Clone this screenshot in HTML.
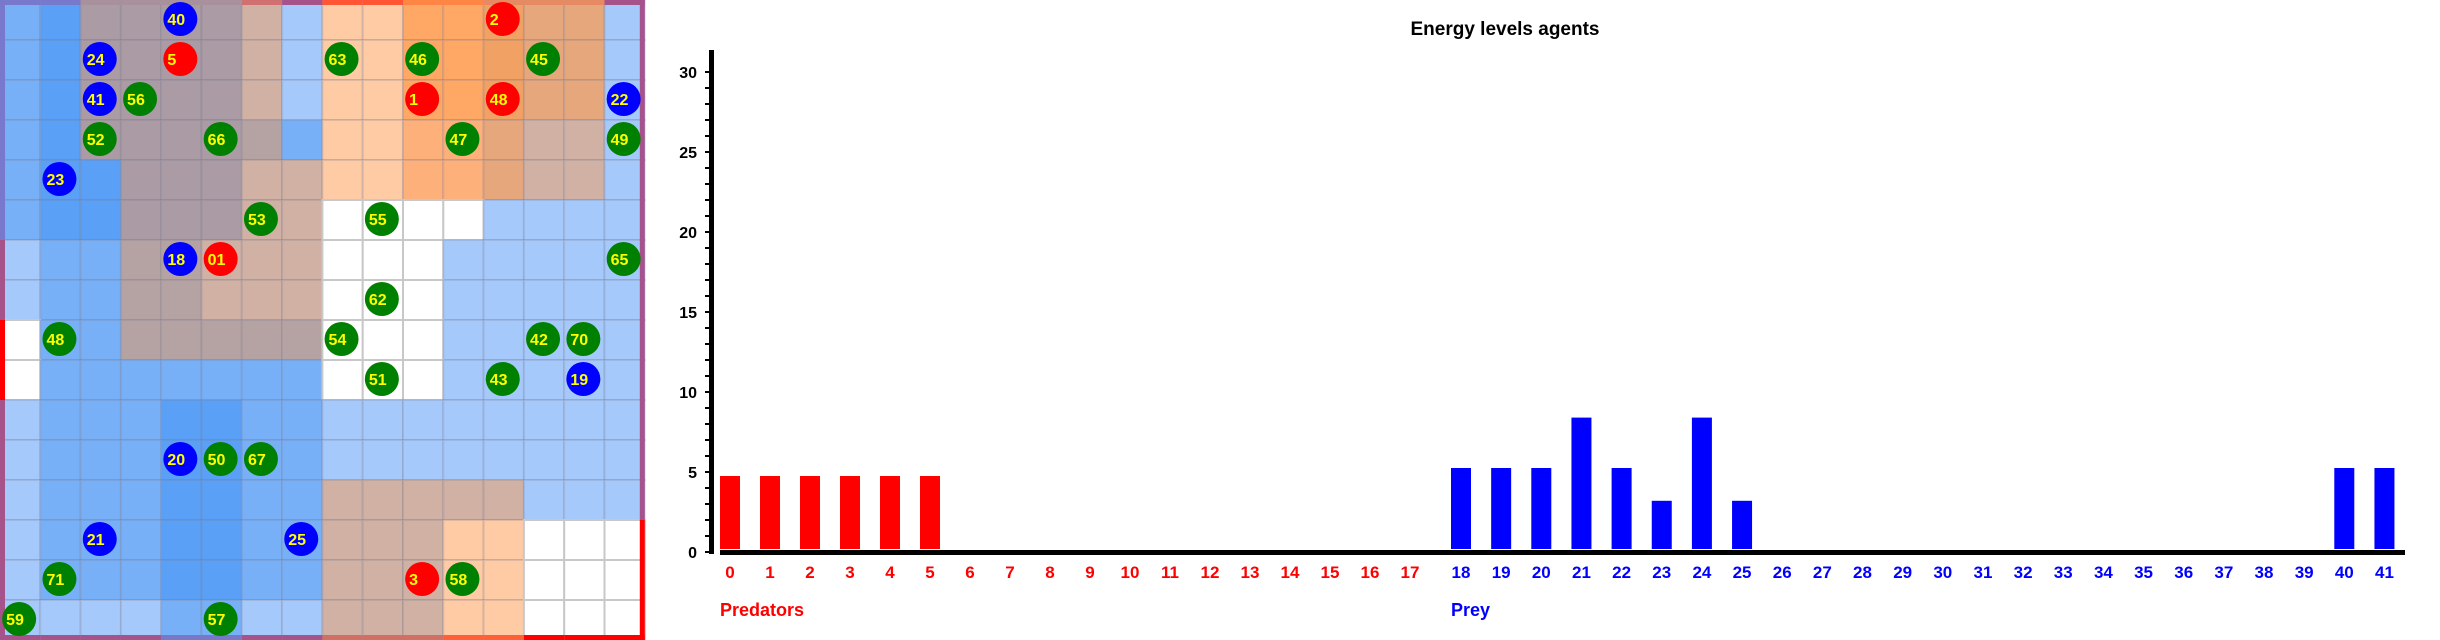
<!DOCTYPE html>
<html><head><meta charset="utf-8"><style>
html,body{margin:0;padding:0;background:#fff;width:2440px;height:640px;overflow:hidden}
svg{display:block}
text{font-family:"Liberation Sans",sans-serif;font-weight:bold}
</style></head><body>
<svg id="root" width="2440" height="640" xmlns="http://www.w3.org/2000/svg">
<g id="grid"></g>
<g id="chart">
<text x="1505" y="35" text-anchor="middle" font-size="19" fill="#000">Energy levels agents</text>
<rect x="709" y="50" width="5" height="504" fill="#000"/>
<rect x="720" y="550" width="1685" height="5" fill="#000"/>
<text x="720" y="616" font-size="18" fill="#f00">Predators</text>
<text x="1451" y="616" font-size="18" fill="#00f">Prey</text>
</g>
</svg>
<script>
// ----- chart data -----
const predatorIds = [0,1,2,3,4,5,6,7,8,9,10,11,12,13,14,15,16,17];
const predatorEnergy = [4.75,4.75,4.75,4.75,4.75,4.75,0,0,0,0,0,0,0,0,0,0,0,0];
const preyIds = [18,19,20,21,22,23,24,25,26,27,28,29,30,31,32,33,34,35,36,37,38,39,40,41];
const preyEnergy = [5.25,5.25,5.25,8.4,5.25,3.2,8.4,3.2,0,0,0,0,0,0,0,0,0,0,0,0,0,0,5.25,5.25];
const yTicks = [0,5,10,15,20,25,30];

const NS = "http://www.w3.org/2000/svg";
function mk(tag, attrs, parent){const e=document.createElementNS(NS,tag);for(const k in attrs)e.setAttribute(k,attrs[k]);parent.appendChild(e);return e;}
const y0 = 552, yScale = 16;
function yPos(v){return y0 - v*yScale;}
function xPred(i){return 720 + i*40;}
function xPrey(i){return 1451 + i*40.15;}
const chart = document.getElementById('chart');

for (let v=0; v<=30; v++){
  const t = mk('rect',{x:705,y:yPos(v)-1,width:5,height:2,fill:'#000'},chart);
  
  
}
yTicks.forEach(v=>{
  const t = mk('text',{x:697,y:yPos(v)+6,'text-anchor':'end','font-size':'16',fill:'#000'},chart);
  t.textContent = v;
  
  
});
function drawSeries(ids, vals, xf, color){
  ids.forEach((id,i)=>{
    const x = xf(i);
    const v = vals[i];
    if (v>0){
      const top = yPos(v);
      const b = mk('rect',{x:x,y:top,width:20,height:549-top,fill:color},chart);
      
      
    }
    const l = mk('text',{x:x+10,y:578,'text-anchor':'middle','font-size':'17',fill:color},chart);
    l.textContent = id;
    
    
  });
}
drawSeries(predatorIds, predatorEnergy, xPred, '#ff0000');
drawSeries(preyIds, preyEnergy, xPrey, '#0000ff');

// ----- grid -----
const pal = {A:'#a6c9fc',B:'#78b0f8',C:'#5ba0f7',D:'#aa9ba4',E:'#b5a3a3',F:'#d0b1a4',G:'#fecba5',H:'#ffa865',J:'#f1a163',I:'#e6a77c',K:'#feb07b',W:'#ffffff'};
const rows = [
"BCDDDDFAGGHHJIIA",
"BCDDDDFAGGHHJIIA",
"BCDDDDFAGGHHJIIA",
"BCDDDDEBGGKKIFFA",
"BCCDDDFFGGKKIFFA",
"BCCDDDFFWWWWAAAA",
"ABBEEFFFWWWAAAAA",
"ABBEEFFFWWWAAAAA",
"WBBEEEEEWWWAAAAA",
"WBBBBBBBWWWAAAAA",
"ABBBCCBBAAAAAAAA",
"ABBBCCBBAAAAAAAA",
"ABBBCCBBFFFFFAAA",
"ABBBCCBBFFFGGWWW",
"ABBBCCBBFFFGGWWW",
"AAAABBAAFFFGGWWW"];
const grid = document.getElementById('grid');
const cw = 40.3, ch = 40;
rows.forEach((r,j)=>{
  [...r].forEach((c,i)=>{
    const e = mk('rect',{x:i*cw,y:j*ch,width:cw,height:ch,fill:pal[c],stroke:c==='W'?'#c8c8c8':'rgba(120,120,140,0.22)','stroke-width':2},grid);
    
    
  });
});
// border segments
const P='#a5538a';
const topB=['#7878cc','#7878cc','#a8909c','#a8909c','#a8909c','#a8909c','#d07070',P,'#ff5535','#ff5535','#ff8545','#ff8545','#e58a62','#e58a62','#e58a62',P];
const botB=[P,P,P,P,'#7878c8','#7878c8',P,P,'#d07065','#d07065','#d07065','#ff6035','#ff6035','#ff0000','#ff0000','#ff0000'];
const leftB=['#7878cc','#7878cc','#7878cc','#7878cc','#7878cc','#7878cc',P,P,'#ff0000','#ff0000',P,P,P,P,P,P];
const rightB=[P,P,P,P,P,P,P,P,P,P,P,P,P,'#ff0000','#ff0000','#ff0000'];
const bw=5;
for(let i=0;i<16;i++){
  let e=mk('rect',{x:i*cw,y:0,width:cw,height:bw,fill:topB[i]},grid);
  
  
  e=mk('rect',{x:i*cw,y:640-bw,width:cw,height:bw,fill:botB[i]},grid);
  
  
  e=mk('rect',{x:0,y:i*ch,width:bw,height:ch,fill:leftB[i]},grid);
  
  
  e=mk('rect',{x:16*cw-bw,y:i*ch,width:bw,height:ch,fill:rightB[i]},grid);
  
  
}
// agents
const agents = [
[4,0,'40','b'],[12,0,'2','r'],[2,1,'24','b'],[4,1,'5','r'],[8,1,'63','g'],[10,1,'46','g'],[13,1,'45','g'],
[2,2,'41','b'],[3,2,'56','g'],[10,2,'1','r'],[12,2,'48','r'],[15,2,'22','b'],
[2,3,'52','g'],[5,3,'66','g'],[11,3,'47','g'],[15,3,'49','g'],[1,4,'23','b'],
[6,5,'53','g'],[9,5,'55','g'],[4,6,'18','b'],[5,6,'01','r'],[15,6,'65','g'],[9,7,'62','g'],
[1,8,'48','g'],[8,8,'54','g'],[13,8,'42','g'],[14,8,'70','g'],
[9,9,'51','g'],[12,9,'43','g'],[14,9,'19','b'],
[4,11,'20','b'],[5,11,'50','g'],[6,11,'67','g'],
[2,13,'21','b'],[7,13,'25','b'],[1,14,'71','g'],[10,14,'3','r'],[11,14,'58','g'],
[0,15,'59','g'],[5,15,'57','g']];
const acol={b:'#0000ff',r:'#ff0000',g:'#008000'};
agents.forEach(a=>{
  const cx=a[0]*cw+cw/2-1, cy=a[1]*ch+ch/2-1;
  const c=mk('circle',{cx:cx,cy:cy,r:17,fill:acol[a[3]]},grid);
  
  
  const t=mk('text',{x:cx-13,y:cy+6,'font-size':'16',fill:'#ffff00'},grid);
  t.textContent=a[2];
  
  
});
</script>
</body></html>
